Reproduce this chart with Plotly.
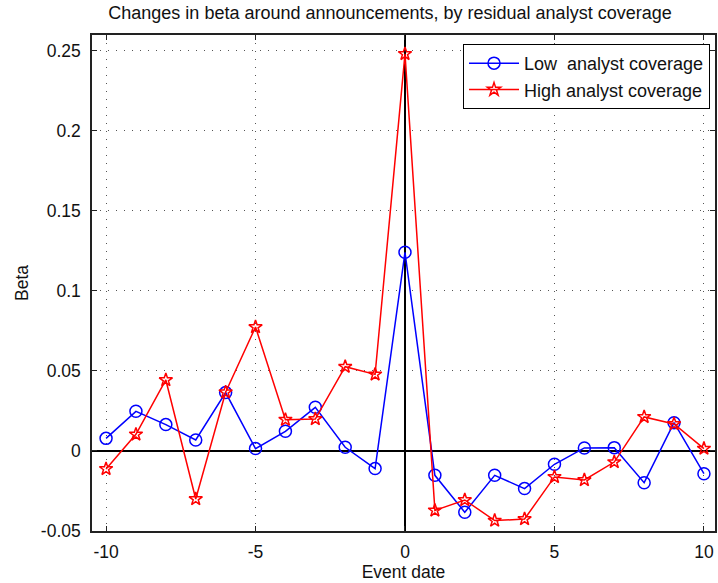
import plotly.graph_objects as go

event_date = list(range(-10, 11))
low_coverage = [0.0077, 0.0246, 0.0163, 0.0067, 0.0363, 0.0013, 0.0121, 0.0271, 0.0021, -0.0112,
                0.124, -0.0154, -0.0385, -0.0154, -0.0237, -0.0085, 0.0017, 0.0019, -0.0200, 0.0175, -0.0144]
high_coverage = [-0.0114, 0.0102, 0.0442, -0.0302, 0.0365, 0.0773, 0.0194, 0.0198, 0.0525, 0.0477,
                 0.248, -0.0373, -0.0308, -0.0437, -0.0427, -0.0164, -0.0183, -0.0071, 0.0211, 0.0167, 0.0013]
x_ticks = [-10, -5, 0, 5, 10]
x_ticktext = ["-10", "-5", "0", "5", "10"]
y_ticks = [-0.05, 0, 0.05, 0.1, 0.15, 0.2, 0.25]
y_ticktext = ["-0.05", "0", "0.05", "0.1", "0.15", "0.2", "0.25"]

FONT = "Liberation Sans, Arial, sans-serif"

fig = go.Figure()
fig.add_trace(go.Scatter(
    x=event_date, y=low_coverage, mode="lines+markers", name="Low  analyst coverage",
    line=dict(color="#0000FF", width=1.5),
    marker=dict(symbol="circle-open", size=12, color="#0000FF", line=dict(width=1.5)),
))
fig.add_trace(go.Scatter(
    x=event_date, y=high_coverage, mode="lines+markers", name="High analyst coverage",
    line=dict(color="#FF0000", width=1.5),
    marker=dict(symbol="star-open", size=10, color="#FF0000", line=dict(width=1.5)),
))

axis_common = dict(
    showline=True, linecolor="#222", linewidth=1.5, mirror="ticks",
    ticks="inside", ticklen=5, tickcolor="#222", tickwidth=1,
    showgrid=True, gridcolor="#555", gridwidth=1, griddash="1px,7px",
    zeroline=True, zerolinecolor="#000", zerolinewidth=1.5,
    tickfont=dict(family=FONT, size=17.5, color="#111"),
)

fig.update_layout(
    width=718, height=583,
    margin=dict(l=92, r=1, t=35, b=52),
    paper_bgcolor="white", plot_bgcolor="white",
    font=dict(family=FONT, size=17.5, color="#111"),
    title=dict(text="Changes in beta around announcements, by residual analyst coverage",
               xref="container", x=390 / 718, xanchor="center",
               yref="container", y=1 - 13 / 583, yanchor="middle",
               font=dict(family=FONT, size=18, color="#111")),
    xaxis=dict(range=[-10.47, 10.37], tickvals=x_ticks, ticktext=x_ticktext,
               title=dict(text="Event date", standoff=4, font=dict(family=FONT, size=17.5)),
               ticklabelstandoff=4, **axis_common),
    yaxis=dict(range=[-0.0502, 0.2598], tickvals=y_ticks, ticktext=y_ticktext,
               title=dict(text="Beta", standoff=8, font=dict(family=FONT, size=17.5)),
               ticklabelstandoff=6, **axis_common),
    legend=dict(x=0.992, xanchor="right", y=0.982, yanchor="top",
                bgcolor="white", bordercolor="#000", borderwidth=1,
                font=dict(family=FONT, size=18, color="#111"),
                itemwidth=50, tracegroupgap=0),
    showlegend=True,
)

fig.write_html("out.html")
